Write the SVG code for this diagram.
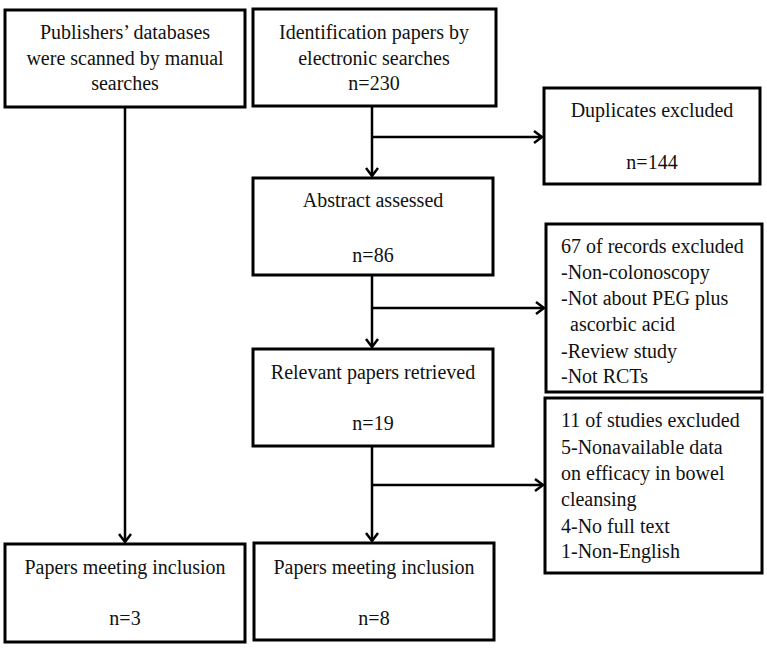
<svg xmlns="http://www.w3.org/2000/svg" width="767" height="650" viewBox="0 0 767 650">
<defs>
<marker id="ah" markerWidth="14" markerHeight="14" refX="11" refY="7" orient="auto" markerUnits="userSpaceOnUse">
<polyline points="3,1 11,7 3,13" fill="none" stroke="#000" stroke-width="2.5"/>
</marker>
</defs>
<style>
rect{fill:#fff;stroke:#000;stroke-width:3}
text{font-family:"Liberation Serif","Times New Roman",serif;font-size:20px;fill:#111}
.c{text-anchor:middle}
.ln{fill:none;stroke:#000;stroke-width:2.5}
</style>
<rect width="767" height="650" style="stroke:none"/>
<g id="connectors">
<line class="ln" x1="125" y1="107" x2="125" y2="542" marker-end="url(#ah)"/>
<line class="ln" x1="372" y1="106" x2="372" y2="176" marker-end="url(#ah)"/>
<line class="ln" x1="372" y1="137" x2="542" y2="137" marker-end="url(#ah)"/>
<line class="ln" x1="372" y1="275" x2="372" y2="347" marker-end="url(#ah)"/>
<line class="ln" x1="372" y1="308" x2="544" y2="308" marker-end="url(#ah)"/>
<line class="ln" x1="372" y1="446" x2="372" y2="541" marker-end="url(#ah)"/>
<line class="ln" x1="372" y1="485" x2="543" y2="485" marker-end="url(#ah)"/>
</g>
<g id="publishers">
<rect x="5" y="10" width="240" height="97"/>
<text class="c" x="125" y="39">Publishers’ databases</text>
<text class="c" x="125" y="65">were scanned by manual</text>
<text class="c" x="125" y="90">searches</text>
</g>
<g id="identification">
<rect x="253" y="9" width="243" height="97"/>
<text class="c" x="374" y="39">Identification papers by</text>
<text class="c" x="374" y="65">electronic searches</text>
<text class="c" x="374" y="90">n=230</text>
</g>
<g id="duplicates">
<rect x="544" y="88" width="216" height="96"/>
<text class="c" x="652" y="117">Duplicates excluded</text>
<text class="c" x="652" y="169">n=144</text>
</g>
<g id="abstract">
<rect x="253" y="178" width="240" height="97"/>
<text class="c" x="373" y="207">Abstract assessed</text>
<text class="c" x="373" y="262">n=86</text>
</g>
<g id="records-excluded">
<rect x="546" y="224" width="216" height="168"/>
<text x="561" y="253">67 of records excluded</text>
<text x="561" y="279">-Non-colonoscopy</text>
<text x="561" y="305">-Not about PEG plus</text>
<text x="570" y="331">ascorbic acid</text>
<text x="561" y="358">-Review study</text>
<text x="561" y="383">-Not RCTs</text>
</g>
<g id="relevant">
<rect x="253" y="349" width="240" height="97"/>
<text class="c" x="373" y="379">Relevant papers retrieved</text>
<text class="c" x="373" y="430">n=19</text>
</g>
<g id="studies-excluded">
<rect x="545" y="398" width="217" height="175"/>
<text x="561" y="427">11 of studies excluded</text>
<text x="561" y="454">5-Nonavailable data</text>
<text x="561" y="480">on efficacy in bowel</text>
<text x="561" y="506">cleansing</text>
<text x="561" y="533">4-No full text</text>
<text x="561" y="558">1-Non-English</text>
</g>
<g id="papers3">
<rect x="5" y="544" width="240" height="98"/>
<text class="c" x="125" y="574">Papers meeting inclusion</text>
<text class="c" x="125" y="625">n=3</text>
</g>
<g id="papers8">
<rect x="254" y="543" width="240" height="97"/>
<text class="c" x="374" y="574">Papers meeting inclusion</text>
<text class="c" x="374" y="625">n=8</text>
</g>
</svg>
